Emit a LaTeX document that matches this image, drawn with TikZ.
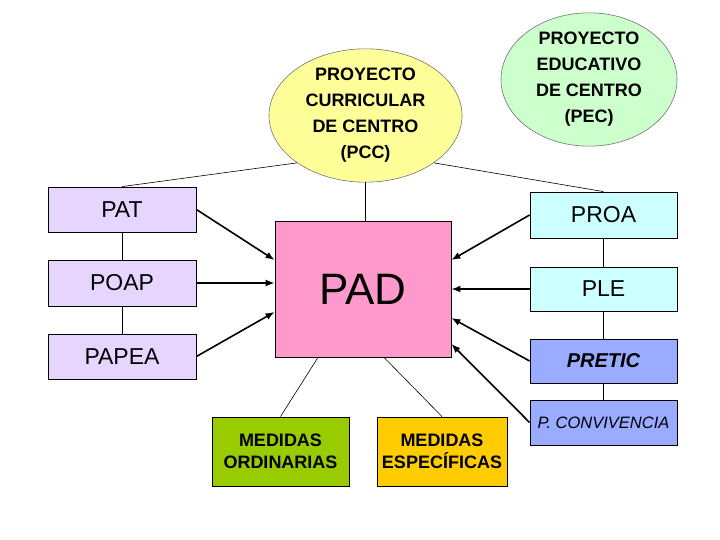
\documentclass[tikz,border=0pt]{standalone}
\usepackage{fontspec}
\setmainfont{Liberation Sans}
\usetikzlibrary{arrows.meta, positioning, shapes.geometric, calc}
\definecolor{planlilac}{RGB}{229,213,255}
\definecolor{plancyan}{RGB}{204,255,255}
\definecolor{planblue}{RGB}{153,172,255}
\definecolor{padpink}{RGB}{255,153,204}
\definecolor{pccyellow}{RGB}{255,255,153}
\definecolor{pecgreen}{RGB}{204,255,204}
\definecolor{ordgreen}{RGB}{153,204,0}
\definecolor{espgold}{RGB}{255,204,0}

\begin{document}
\begin{tikzpicture}[x=1pt, y=-1pt,
			plan/.style={rectangle, draw=black, line width=0.8pt, minimum width=148pt, minimum height=45pt, inner sep=0pt, font=\fontsize{23}{27}\selectfont},
			proj/.style={ellipse, draw=black!55, line width=0.6pt, inner sep=0pt, align=center, font=\bfseries\fontsize{18}{26}\selectfont},
			medida/.style={rectangle, draw=black, line width=0.8pt, minimum height=69pt, inner sep=0pt, align=center, font=\bfseries\fontsize{18}{22}\selectfont},
			link/.style={draw=black, line width=0.6pt},
			feed/.style={draw=black, line width=1.6pt, -{Latex[length=9pt,width=7pt]}}
		]
		\useasboundingbox (0,0) rectangle (720,540);
		% proyectos
		\node[proj, fill=pccyellow, minimum width=193pt, minimum height=117pt] (pcc) at (365.5,115.5) {PROYECTO\\CURRICULAR\\DE CENTRO\\(PCC)};
		\node[proj, fill=pecgreen, minimum width=176pt, minimum height=119pt] (pec) at (589,79.5) {PROYECTO\\EDUCATIVO\\DE CENTRO\\(PEC)};
		% plan central
		\node[rectangle, draw=black, line width=0.8pt, fill=padpink, minimum width=176pt, minimum height=136pt, inner sep=0pt, font=\fontsize{44}{50}\selectfont] (pad) at (363,289) {PAD};
		% planes izquierda
		\node[plan, fill=planlilac] (pat) at (122,209.5) {PAT};
		\node[plan, fill=planlilac, minimum height=46pt] (poap) at (122,283) {POAP};
		\node[plan, fill=planlilac] (papea) at (122,356.5) {PAPEA};
		% planes derecha
		\node[plan, fill=plancyan, minimum width=147pt, minimum height=46pt] (proa) at (603.5,215) {PROA};
		\node[plan, fill=plancyan, minimum width=147pt, minimum height=44pt] (ple) at (603.5,289) {PLE};
		\node[plan, fill=planblue, minimum width=147pt, minimum height=44pt, font=\bfseries\itshape\fontsize{20}{24}\selectfont] (pretic) at (603.5,361) {PRETIC};
		\node[plan, fill=planblue, minimum width=147pt, font=\itshape\fontsize{16.5}{20}\selectfont] (pconv) at (603.5,422.5) {P. CONVIVENCIA};
		% medidas
		\node[medida, fill=ordgreen, minimum width=137pt] (ord) at (280.5,451.5) {MEDIDAS\\ORDINARIAS};
		\node[medida, fill=espgold, minimum width=130pt] (esp) at (442,451.5) {MEDIDAS\\ESPECÍFICAS};
		% enlaces
		\draw[link] (pcc.south west) -- (pat.north);
		\draw[link] (pcc.south east) -- (proa.north);
		\draw[link] (pcc.south) -- (pcc.south |- pad.north);
		\draw[link] (pat) -- (poap);
		\draw[link] (poap) -- (papea);
		\draw[link] (proa) -- (ple);
		\draw[link] (ple) -- (pretic);
		\draw[link] (pretic) -- (pconv);
		\draw[link] ($(pad.south)+(-45,0)$) -- (ord.north);
		\draw[link] ($(pad.south)+(21,0)$) -- (esp.north);
		% flechas
		\draw[feed] (pat.east) -- ($(pad.west)+(0,-29)$);
		\draw[feed] (poap.east) -- (poap.east -| pad.west);
		\draw[feed] (papea.east) -- ($(pad.west)+(0,23)$);
		\draw[feed] (proa.west) -- ($(pad.east)+(0,-29)$);
		\draw[feed] (ple.west) -- (pad.east);
		\draw[feed] (pretic.west) -- ($(pad.east)+(0,29)$);
		\draw[feed] (pconv.west) -- ($(pad.east)+(0,55)$);
	\end{tikzpicture}
\end{document}
